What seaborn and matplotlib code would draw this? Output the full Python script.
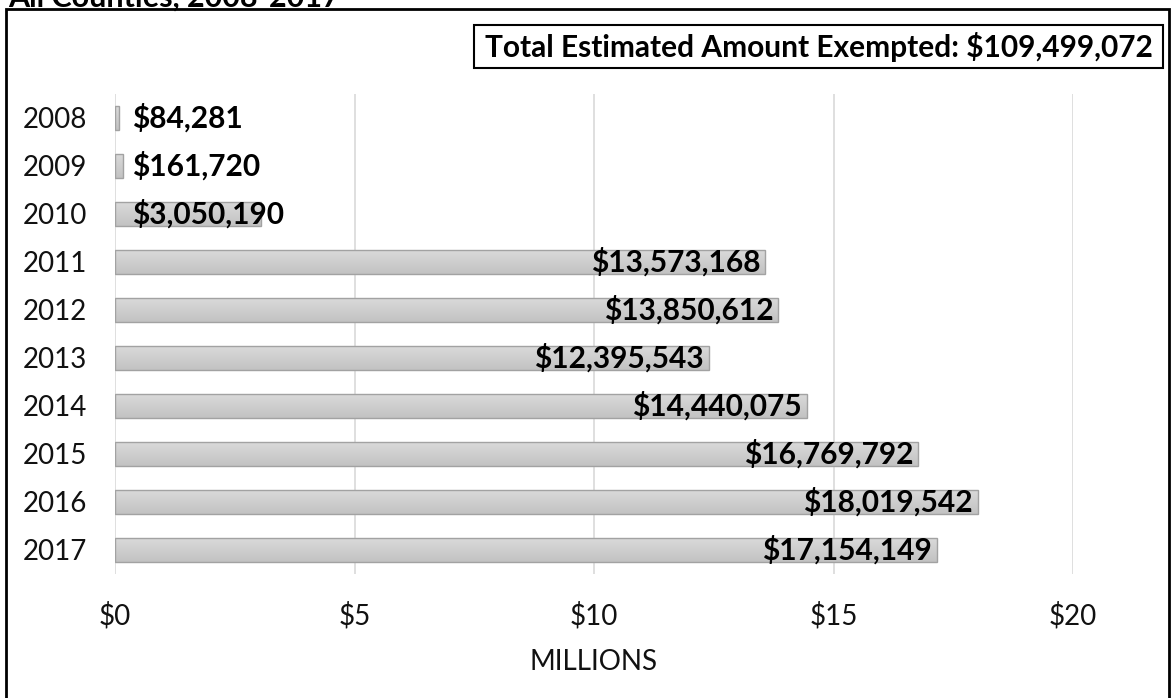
import matplotlib
matplotlib.use("Agg")
import matplotlib.pyplot as plt
from matplotlib.patches import Rectangle
import numpy as np
import pandas as pd
import seaborn as sns

# Exempted amounts by year (dollars)
years = ["2008", "2009", "2010", "2011", "2012", "2013", "2014", "2015", "2016", "2017"]
amounts = [84281, 161720, 3050190, 13573168, 13850612, 12395543,
           14440075, 16769792, 18019542, 17154149]
x_ticks = [0, 5, 10, 15, 20]
x_tick_labels = ["$0", "$5", "$10", "$15", "$20"]
x_axis_title = "MILLIONS"
chart_title = "All Counties, 2008-2017"
total_note = "Total Estimated Amount Exempted: $109,499,072"

sns.set_theme(style="whitegrid")
plt.rcParams["font.family"] = ["Lato", "DejaVu Sans"]

W, H = 1172, 698
fig = plt.figure(figsize=(W / 100, H / 100), dpi=100)
fig.patch.set_facecolor("white")

# plot area in pixel units
left, right, top, bottom = 115, 1073, 94, 574
ax = fig.add_axes([left / W, 1 - bottom / H, (right - left) / W, (bottom - top) / H])

df = pd.DataFrame({"year": years, "millions": np.array(amounts) / 1e6})
sns.barplot(data=df, y="year", x="millions", orient="h", color="#cfcfcf",
            saturation=1, width=0.52, edgecolor="#a2a2a2", linewidth=1.0, ax=ax)

ax.set_xlim(0, 20)
ylim = ax.get_ylim()

# soft vertical shading inside each bar
grad = np.linspace(0, 1, 64).reshape(-1, 1)
cmap = matplotlib.colors.LinearSegmentedColormap.from_list("bar", ["#dbdbdb", "#c2c2c2"])
for p in ax.patches:
    x0, y0, w, h = p.get_x(), p.get_y(), p.get_width(), p.get_height()
    im = ax.imshow(grad, extent=[x0, x0 + w, y0 + h, y0], cmap=cmap, aspect="auto",
                   zorder=0.8, interpolation="bilinear")
    im.set_clip_path(p)
    p.set_facecolor("none")
    p.set_zorder(1)
ax.set_xlim(0, 20)
ax.set_ylim(ylim)

# value labels
for i, v in enumerate(amounts):
    m = v / 1e6
    txt = f"${v:,.0f}"
    if m < 5:
        ax.annotate(txt, (0, i), xytext=(12.2, 0), textcoords="offset points",
                    ha="left", va="center", fontsize=21.5, fontweight="bold", color="black", zorder=3)
    else:
        ax.annotate(txt, (m, i), xytext=(-3.6, 0), textcoords="offset points",
                    ha="right", va="center", fontsize=21.5, fontweight="bold", color="black", zorder=3)

ax.set_xticks(x_ticks)
ax.set_xticklabels(x_tick_labels)
ax.set_ylabel("")
ax.set_xlabel(x_axis_title, fontsize=20, color="#111111", labelpad=14)
ax.tick_params(axis="x", length=0, pad=20, labelsize=20, labelcolor="#111111")
ax.tick_params(axis="y", length=0, pad=20, labelsize=20, labelcolor="#111111")
ax.grid(axis="x", color="#d9d9d9", linewidth=1.2)
ax.grid(axis="y", visible=False)
for s in ax.spines.values():
    s.set_visible(False)
ax.set_facecolor("white")

# outer frame
fig.add_artist(Rectangle((5.5 / W, -0.05), (1168.5 - 5.5) / W, 1.05 - 9 / H,
                         transform=fig.transFigure, fill=False, edgecolor="black", linewidth=2))
# total box
fig.add_artist(Rectangle((474 / W, 1 - 68 / H), (1163 - 474) / W, 43 / H,
                         transform=fig.transFigure, facecolor="white", edgecolor="black", linewidth=1.5))
fig.text((474 + 1163) / 2 / W, 1 - 46.5 / H, total_note, ha="center", va="center",
         fontsize=21.5, fontweight="bold", color="black")
# heading
fig.text(8 / W, 1 - 7 / H, chart_title, ha="left", va="baseline",
         fontsize=22, fontweight="bold", color="black")

fig.savefig("out.png", dpi=100, facecolor="white")
